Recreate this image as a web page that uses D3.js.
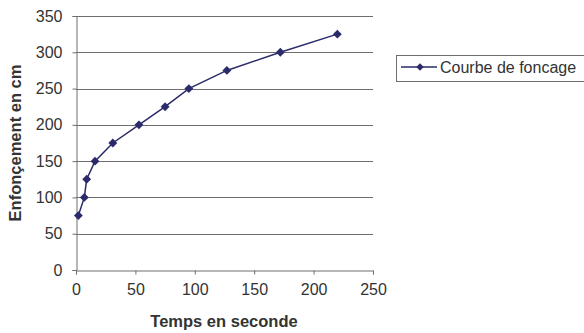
<!DOCTYPE html>
<html>
<head>
<meta charset="utf-8">
<script src="https://cdn.jsdelivr.net/npm/d3@7"></script>
<style>
  body { margin: 0; background: #fff; }
  svg { display: block; font-family: "Liberation Sans", Arial, sans-serif; }
</style>
</head>
<body>
<svg width="584" height="333"></svg>
<script>
"use strict";

// temps (s) et enfoncement (cm)
const temps = [2, 7, 9, 16, 31, 53, 75, 95, 127, 172, 220];
const enfoncement = [75, 100, 125, 150, 175, 200, 225, 250, 275, 300, 325];
const xTicks = [0, 50, 100, 150, 200, 250];
const yTicks = [0, 50, 100, 150, 200, 250, 300, 350];
const serieNom = "Courbe de foncage";

const data = temps.map((t, i) => ({ t: t, e: enfoncement[i] }));

const svg = d3.select("svg");
const navy = "#2b2b6b";
const grey = "#6e6e6e";

const x = d3.scaleLinear().domain([0, 250]).range([76, 373]);
const y = d3.scaleLinear().domain([0, 350]).range([270, 16]);

// grille horizontale
svg.append("g")
  .selectAll("line")
  .data(yTicks.filter((d) => d > 0))
  .enter()
  .append("line")
  .attr("x1", x(0))
  .attr("x2", x(250))
  .attr("y1", (d) => Math.round(y(d)) + 0.5)
  .attr("y2", (d) => Math.round(y(d)) + 0.5)
  .style("stroke", grey)
  .style("stroke-width", 1);

// axe y
const yAxis = svg.append("g")
  .attr("transform", `translate(${x(0) + 0.5},0)`)
  .call(d3.axisLeft(y).tickValues(yTicks).tickSize(4).tickPadding(10));

// axe x
const xAxis = svg.append("g")
  .attr("transform", `translate(0,${Math.round(y(0)) + 0.5})`)
  .call(d3.axisBottom(x).tickValues(xTicks).tickSize(4).tickPadding(9));

[xAxis, yAxis].forEach((g) => {
  g.select(".domain").style("stroke", grey);
  g.selectAll(".tick line").style("stroke", grey);
  g.selectAll("text")
    .style("font-size", "16px")
    .style("fill", "#333")
    .style("font-family", "'Liberation Sans', Arial, sans-serif");
});

// courbe
const line = d3.line().x((d) => x(d.t)).y((d) => y(d.e));
svg.append("path")
  .datum(data)
  .attr("d", line)
  .style("fill", "none")
  .style("stroke", navy)
  .style("stroke-width", 1.5);

const diamond = d3.symbol().type(d3.symbolDiamond2).size(50);
svg.append("g")
  .selectAll("path")
  .data(data)
  .enter()
  .append("path")
  .attr("d", diamond)
  .attr("transform", (d) => `translate(${x(d.t)},${y(d.e)})`)
  .style("fill", navy);

// titres des axes
svg.append("text")
  .attr("x", 224)
  .attr("y", 327)
  .attr("text-anchor", "middle")
  .style("font-size", "16.5px")
  .style("font-weight", "bold")
  .style("fill", "#333")
  .text("Temps en seconde");

svg.append("text")
  .attr("transform", "translate(21,143) rotate(-90)")
  .attr("text-anchor", "middle")
  .style("font-size", "16.5px")
  .style("font-weight", "bold")
  .style("fill", "#333")
  .text("Enfonçement en cm");

// légende
const leg = svg.append("g");
leg.append("rect")
  .attr("x", 396.5)
  .attr("y", 55.5)
  .attr("width", 200)
  .attr("height", 26)
  .style("fill", "#fff")
  .style("stroke", grey);
leg.append("line")
  .attr("x1", 401)
  .attr("x2", 437)
  .attr("y1", 67)
  .attr("y2", 67)
  .style("stroke", navy)
  .style("stroke-width", 1.5);
leg.append("path")
  .attr("d", d3.symbol().type(d3.symbolDiamond2).size(36))
  .attr("transform", "translate(420,67)")
  .style("fill", navy);
leg.append("text")
  .attr("x", 440)
  .attr("y", 73)
  .style("font-size", "16px")
  .style("fill", "#333")
  .text(serieNom);
</script>
</body>
</html>
